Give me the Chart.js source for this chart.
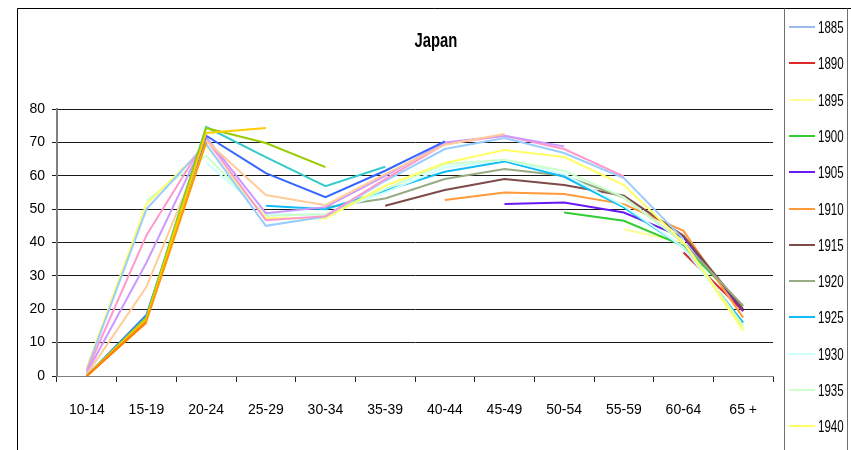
<!DOCTYPE html>
<html>
<head>
<meta charset="utf-8">
<script src="https://cdn.jsdelivr.net/npm/chart.js@4.4.1/dist/chart.umd.min.js"></script>
<style>
  html, body { margin: 0; padding: 0; background: #ffffff; }
  #c { display: block; }
</style>
</head>
<body>
<canvas id="c" width="851" height="450"></canvas>
<script>
const N = null;
const chartTitle = 'Japan';
const ageGroups = ['10-14','15-19','20-24','25-29','30-34','35-39','40-44','45-49','50-54','55-59','60-64','65 +'];
const yTicks = [0, 10, 20, 30, 40, 50, 60, 70, 80];
const cohorts = ['1885','1890','1895','1900','1905','1910','1915','1920','1925','1930','1935','1940',
                 '1945','1950','1955','1960','1965','1970','1975','1980','1985','1990'];

const v1885 = [N, N, N, N, N, N, N, N, N, N, N, 20];
const v1890 = [N, N, N, N, N, N, N, N, N, N, 37, 19.5];
const v1895 = [N, N, N, N, N, N, N, N, N, 44, 40, 13.5];
const v1900 = [N, N, N, N, N, N, N, N, 49, 46.5, 39, 21];
const v1905 = [N, N, N, N, N, N, N, 51.5, 52, 49, 41.5, 19.5];
const v1910 = [N, N, N, N, N, N, 52.7, 55, 54.5, 51.5, 43.5, 17.5];
const v1915 = [N, N, N, N, N, 51, 55.7, 59, 57.2, 54, 42, 20];
const v1920 = [N, N, N, N, 50.5, 53.2, 59, 62, 60, 53.5, 40, 21];
const v1925 = [N, N, N, 51, 50, 55.5, 61.2, 64.3, 59.7, 50.5, 38.5, 16];
const v1930 = [N, N, 64, 48.5, 48.5, 55, 62.5, 64.8, 60.5, 51, 38.5, 15];
const v1935 = [N, 52.5, 66, 48, 48.5, 56, 63.5, 64.8, 61.5, 53.5, 40, 15];
const v1940 = [2.5, 51.5, 69, 47.3, 47.3, 57, 63.8, 67.7, 65.6, 57.2, 40, 14];
const v1945 = [2, 50, 69.5, 45, 47.8, 58.5, 68, 71.3, 66.8, 59.3, 41, N];
const v1950 = [1.5, 42.2, 71, 46.7, 47.9, 59, 69.5, 72, 68, 59.8, N, N];
const v1955 = [1, 34, 71.5, 48.8, 50.6, 60, 70, 72, 68.8, N, N, N];
const v1960 = [0.5, 26.7, 70.5, 54.2, 51.2, 60.5, 69.3, 72.5, N, N, N, N];
const v1965 = [0, 18.3, 72, 60.8, 53.6, 61.5, 70.3, N, N, N, N, N];
const v1970 = [0, 17.8, 74.6, 65.6, 56.9, 62.7, N, N, N, N, N, N];
const v1975 = [0, 17.5, 74.3, 69.8, 62.6, N, N, N, N, N, N, N];
const v1980 = [0, 17, 72.8, 74.3, N, N, N, N, N, N, N, N];
const v1985 = [0, 16.5, 70, N, N, N, N, N, N, N, N, N];
const v1990 = [0, 16, N, N, N, N, N, N, N, N, N, N];

const seriesValues = [v1885, v1890, v1895, v1900, v1905, v1910, v1915, v1920, v1925, v1930, v1935, v1940,
                      v1945, v1950, v1955, v1960, v1965, v1970, v1975, v1980, v1985, v1990];
const seriesColors = ['#99BBEE','#E02828','#FFFF99','#33CC33','#6A1AF0','#FF9A3C','#7F4A4A','#98AC84',
                      '#11BDF5','#CCFFFF','#CCFFCC','#FFFF66','#99CCFF','#FF99CC','#CC99FF','#FFCC99',
                      '#3366FF','#33CCCC','#99CC00','#FFCC00','#FF9900','#FF8000'];
const legendCount = 12;

const FONT = "'Liberation Sans', Arial, sans-serif";

const decorPlugin = {
  id: 'decor',
  beforeDraw(chart) {
    const ctx = chart.ctx;
    ctx.save();
    ctx.fillStyle = '#ffffff';
    ctx.fillRect(0, 0, chart.width, chart.height);
    ctx.restore();
  },
  afterDraw(chart) {
    const ctx = chart.ctx;
    ctx.save();
    // outer frame
    ctx.strokeStyle = '#000000';
    ctx.lineWidth = 1;
    ctx.beginPath();
    ctx.moveTo(17.5, 450); ctx.lineTo(17.5, 8.5); ctx.lineTo(851, 8.5);
    ctx.stroke();
    // legend box
    ctx.strokeStyle = '#707070';
    ctx.beginPath();
    ctx.moveTo(784.5, 8.5); ctx.lineTo(784.5, 450);
    ctx.moveTo(847.5, 8.5); ctx.lineTo(847.5, 450);
    ctx.stroke();
    // title (condensed look)
    ctx.fillStyle = '#000000';
    ctx.save();
    ctx.translate(436, 41);
    ctx.scale(0.74, 1);
    ctx.font = "bold 20px " + FONT;
    ctx.textAlign = 'center';
    ctx.textBaseline = 'middle';
    ctx.fillText(chartTitle, 0, 0);
    ctx.restore();
    // legend
    const ds = chart.data.datasets;
    for (let i = 0; i < legendCount && i < ds.length; i++) {
      const y = Math.round(27 + i * 36.3);
      ctx.strokeStyle = ds[i].borderColor;
      ctx.lineWidth = 2;
      ctx.beginPath();
      ctx.moveTo(789, y);
      ctx.lineTo(815, y);
      ctx.stroke();
      ctx.save();
      ctx.translate(818, y + 1);
      ctx.scale(0.68, 1);
      ctx.font = "17px " + FONT;
      ctx.textAlign = 'left';
      ctx.textBaseline = 'middle';
      ctx.fillStyle = '#000000';
      ctx.fillText(ds[i].label, 0, 0);
      ctx.restore();
    }
    ctx.restore();
  }
};

const datasets = cohorts.map((c, i) => ({
  label: c,
  data: seriesValues[i],
  borderColor: seriesColors[i],
  backgroundColor: seriesColors[i],
  borderWidth: 2,
  pointRadius: 0,
  pointHoverRadius: 0,
  tension: 0,
  spanGaps: false,
  fill: false,
  order: -i
}));

new Chart(document.getElementById('c'), {
  type: 'line',
  data: { labels: ageGroups, datasets },
  options: {
    responsive: false,
    animation: false,
    devicePixelRatio: 1,
    layout: { padding: { left: 17, right: 78, top: 109, bottom: 0 } },
    plugins: {
      legend: { display: false },
      title: { display: false },
      tooltip: { enabled: false }
    },
    scales: {
      x: {
        type: 'category',
        offset: true,
        grid: { offset: true, drawOnChartArea: false, drawTicks: true, tickLength: 6, color: '#202020' },
        border: { display: true, color: '#808080', width: 1 },
        ticks: { color: '#000', font: { family: FONT, size: 14 }, padding: 20, maxRotation: 0, autoSkip: false },
        afterFit: (s) => { s.height = 450 - 376; }
      },
      y: {
        min: 0, max: 80,
        afterBuildTicks: (s) => { s.ticks = yTicks.map(v => ({ value: v })); },
        grid: { color: '#1a1a1a', lineWidth: 1, drawTicks: true, tickLength: 5 },
        border: { display: true, color: '#808080', width: 2 },
        ticks: { color: '#000', font: { family: FONT, size: 14 }, padding: 7 },
        afterFit: (s) => { s.width = 57 - 17; }
      }
    }
  },
  plugins: [decorPlugin]
});
</script>
</body>
</html>
